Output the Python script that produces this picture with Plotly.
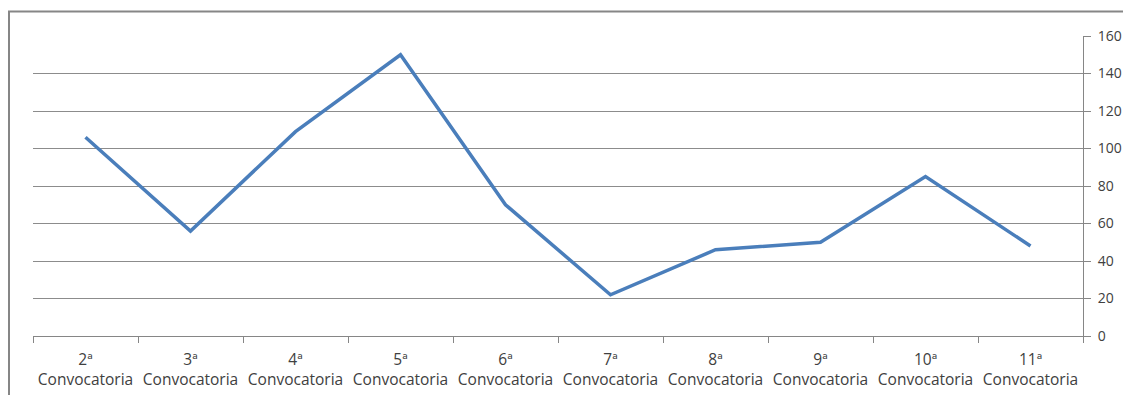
import plotly.graph_objects as go

ordinals = ["2ª", "3ª", "4ª", "5ª", "6ª", "7ª", "8ª", "9ª", "10ª", "11ª"]
second_line = ["Convocatoria"] * 10
values = [106, 56, 109, 150, 70, 22, 46, 50, 85, 48]
y_ticks = [0, 20, 40, 60, 80, 100, 120, 140, 160]

positions = list(range(len(ordinals)))

fig = go.Figure()
fig.add_trace(go.Scatter(x=ordinals, y=values, mode="lines",
                         line=dict(color="#4a7ebb", width=3.5), hoverinfo="skip"))
# invisible companion trace so the second-line label axis is drawn
fig.add_trace(go.Scatter(x=positions, y=values, xaxis="x2", mode="markers",
                         marker=dict(opacity=0), hoverinfo="skip"))

# page has an 8px body margin; figure coords are offset by it
W, H = 1115, 387
L, T = 25, 28
R = W - 1075
B = H - 328
pw, ph = W - L - R, H - T - B

label_font = dict(family="Open Sans, sans-serif", size=15.5, color="#404040")

fig.update_layout(
    width=W, height=H,
    margin=dict(l=L, r=R, t=T, b=B, autoexpand=False),
    paper_bgcolor="white", plot_bgcolor="white",
    showlegend=False,
    font=dict(family="Open Sans, sans-serif", size=15, color="#404040"),
    xaxis=dict(type="category", categoryorder="array", categoryarray=ordinals,
               range=[-0.5, 9.5], tickson="boundaries",
               ticks="outside", ticklen=6, tickcolor="#868686",
               showline=True, linecolor="#868686", linewidth=1,
               showgrid=False, zeroline=False, automargin=False,
               tickfont=label_font, ticklabelstandoff=9),
    xaxis2=dict(overlaying="x", anchor="y", side="bottom",
                range=[-0.5, 9.5], tickmode="array",
                tickvals=positions, ticktext=second_line,
                ticks="", showline=False, showgrid=False, zeroline=False,
                automargin=False, tickfont=label_font, ticklabelstandoff=32),
    yaxis=dict(side="right", range=[0, 160], tickvals=y_ticks,
               ticks="outside", ticklen=7, tickcolor="#868686",
               showline=True, linecolor="#868686", linewidth=1,
               showgrid=True, gridcolor="#8c8c8c", gridwidth=1,
               zeroline=False, automargin=False, ticklabelstandoff=4,
               tickfont=dict(family="Open Sans, sans-serif", size=14, color="#404040")),
    shapes=[dict(type="rect", xref="paper", yref="paper",
                 x0=(1 - L) / pw, x1=1.2, y0=-0.5, y1=(H - B - 3.5) / ph,
                 line=dict(color="#868686", width=2), fillcolor="rgba(0,0,0,0)", layer="below")],
)

fig.write_html("out.html")
